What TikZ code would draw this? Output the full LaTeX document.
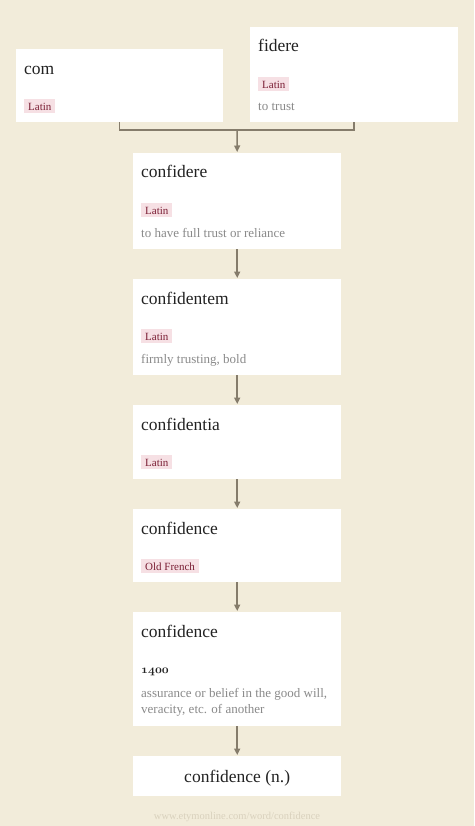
\documentclass[tikz,border=0pt]{standalone}
\usepackage{fontspec}
\setmainfont{Liberation Serif}
\usetikzlibrary{arrows.meta}
\definecolor{paper}{HTML}{F2ECDA}
\definecolor{wirecol}{HTML}{857C6B}
\definecolor{tagbg}{HTML}{F6E0E4}
\definecolor{tagfg}{HTML}{7A1E34}
\definecolor{glosscol}{HTML}{8A8A8A}
\definecolor{wordcol}{HTML}{222222}
\definecolor{srccol}{HTML}{D9D1BD}

\begin{document}
\begin{tikzpicture}[x=1pt,y=-1pt,
    card/.style={fill=white,anchor=north west,inner sep=0pt,minimum width=208pt},
    word/.style={anchor=base west,inner sep=0pt,text=wordcol,font=\fontsize{17.5}{21}\selectfont},
    tag/.style={anchor=north west,fill=tagbg,text=tagfg,font=\fontsize{11}{13}\selectfont,
      inner xsep=4pt,inner ysep=1.5pt,text height=9.5pt,text depth=1.5pt},
    gloss/.style={anchor=base west,inner sep=0pt,text=glosscol,font=\fontsize{13}{16}\selectfont},
    wire/.style={draw=wirecol,line width=1.5pt},
    arr/.style={wire,-{Triangle[width=6pt,length=6.5pt]},shorten >=1pt}]
      \useasboundingbox (0,0) rectangle (474,826);
      \fill[paper] (0,0) rectangle (474,826);
      % cards
      \node[card,minimum width=207pt,minimum height=73pt] (com) at (16,49) {};
      \node[card,minimum height=95pt] (fidere) at (250,27) {};
      \node[card,minimum height=96pt] (confidere) at (133,153) {};
      \node[card,minimum height=96pt] (confidentem) at (133,279) {};
      \node[card,minimum height=74pt] (confidentia) at (133,405) {};
      \node[card,minimum height=73pt] (oldfr) at (133,509) {};
      \node[card,minimum height=114pt] (engl) at (133,612) {};
      \node[card,minimum height=40pt] (final) at (133,756) {};
      % texts
      \node[word] (com-w) at ([xshift=8pt,yshift=-26pt]com.north west) {com};
      \node[tag] (com-t) at ([xshift=8pt,yshift=-50pt]com.north west) {Latin};
      \node[word] (fidere-w) at ([xshift=8pt,yshift=-25pt]fidere.north west) {fidere};
      \node[tag] (fidere-t) at ([xshift=8pt,yshift=-50pt]fidere.north west) {Latin};
      \node[gloss] (fidere-g) at ([xshift=8pt,yshift=-84pt]fidere.north west) {to trust};
      \node[word] (confidere-w) at ([xshift=8pt,yshift=-25pt]confidere.north west) {confidere};
      \node[tag] (confidere-t) at ([xshift=8pt,yshift=-50pt]confidere.north west) {Latin};
      \node[gloss] (confidere-g) at ([xshift=8pt,yshift=-84pt]confidere.north west) {to have full trust or reliance};
      \node[word] (confidentem-w) at ([xshift=8pt,yshift=-25pt]confidentem.north west) {confidentem};
      \node[tag] (confidentem-t) at ([xshift=8pt,yshift=-50pt]confidentem.north west) {Latin};
      \node[gloss] (confidentem-g) at ([xshift=8pt,yshift=-84pt]confidentem.north west) {firmly trusting, bold};
      \node[word] (confidentia-w) at ([xshift=8pt,yshift=-25pt]confidentia.north west) {confidentia};
      \node[tag] (confidentia-t) at ([xshift=8pt,yshift=-50pt]confidentia.north west) {Latin};
      \node[word] (oldfr-w) at ([xshift=8pt,yshift=-25pt]oldfr.north west) {confidence};
      \node[tag] (oldfr-t) at ([xshift=8pt,yshift=-50pt]oldfr.north west) {Old French};
      \node[word] (engl-w) at ([xshift=8pt,yshift=-25pt]engl.north west) {confidence};
      \node[word,font=\fontsize{11.5}{14}\selectfont] (engl-d) at ([xshift=8pt,yshift=-61pt]engl.north west) {\usefont{OML}{cmm}{b}{it}1400};
      \node[gloss] (engl-g1) at ([xshift=8pt,yshift=-85pt]engl.north west) {assurance or belief in the good will,};
      \node[gloss] (engl-g2) at ([xshift=8pt,yshift=-101pt]engl.north west) {veracity, etc. of another};
      \node[word,anchor=base] (final-w) at ([yshift=-26pt]final.north) {confidence (n.)};
      \node[anchor=base,inner sep=0pt,text=srccol,font=\fontsize{10.5}{12}\selectfont] (source) at (237,819) {www.etymonline.com/word/confidence};
      % links
      \coordinate (join) at (237,130);
      \draw[wire] (com.south) |- (join) -| (fidere.south);
      \draw[arr] (join) -- (confidere.north);
      \draw[arr] (confidere.south) -- (confidentem.north);
      \draw[arr] (confidentem.south) -- (confidentia.north);
      \draw[arr] (confidentia.south) -- (oldfr.north);
      \draw[arr] (oldfr.south) -- (engl.north);
      \draw[arr] (engl.south) -- (final.north);
    \end{tikzpicture}
\end{document}
